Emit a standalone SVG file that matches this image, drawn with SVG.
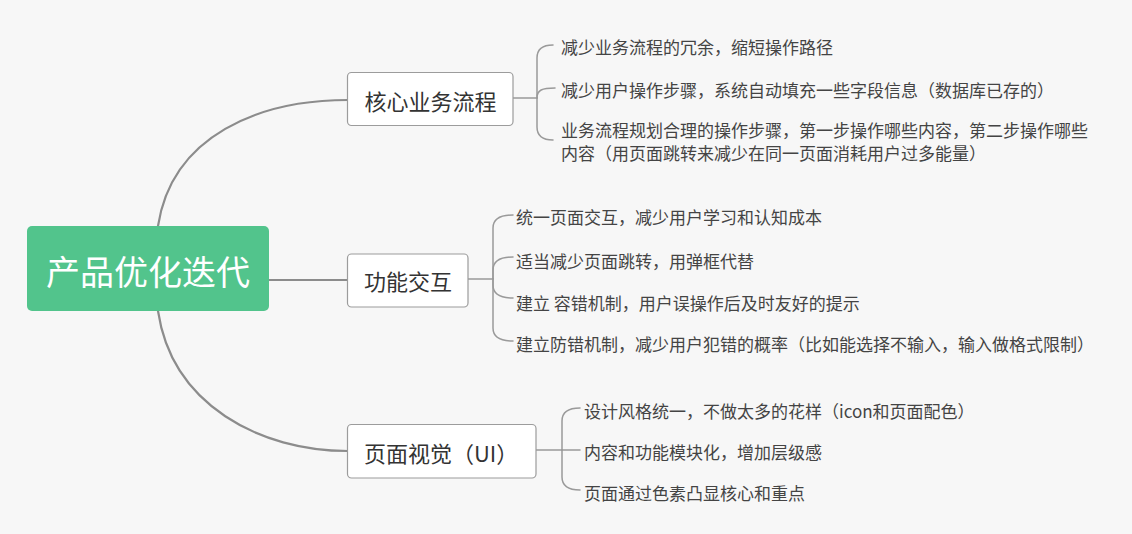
<svg xmlns="http://www.w3.org/2000/svg" width="1132" height="534" viewBox="0 0 1132 534">
  <style>
    .main { fill: none; stroke: #8c8c8c; stroke-width: 2.2; stroke-linecap: round; }
    .sub { fill: none; stroke: #9a9a9a; stroke-width: 1.5; stroke-linecap: round; }
    .box { fill: #ffffff; stroke: #9c9c9c; stroke-width: 1.2; }
    .ntext { font-family: "Noto Sans CJK SC", "Microsoft YaHei", sans-serif; font-size: 22px; fill: #333333; }
    .ctext { font-family: "Noto Sans CJK SC", "Microsoft YaHei", sans-serif; font-size: 17px; fill: #444444; }
    .rtext { font-family: "Noto Sans CJK SC", "Microsoft YaHei", sans-serif; font-size: 34px; fill: #ffffff; }
  </style>
  <rect x="0" y="0" width="1132" height="534" fill="#f7f7f7"/>

  <g id="connectors">
    <path class="main" d="M158,226 C172,135 260,100 348,100"/>
    <path class="main" d="M269,280 H348"/>
    <path class="main" d="M158,311 C172,405 260,451 348,451"/>

    <path class="sub" d="M513,98 H537"/>
    <path class="sub" d="M537,98 V58 Q537,45 553,45"/>
    <path class="sub" d="M537,98 C537,90 542,88 555,88"/>
    <path class="sub" d="M537,98 V127 Q537,140 553,140"/>

    <path class="sub" d="M468,279 H493"/>
    <path class="sub" d="M493,279 V228 Q493,215 513,215"/>
    <path class="sub" d="M493,279 V270 Q493,257 513,257"/>
    <path class="sub" d="M493,279 V285 Q493,298 513,298"/>
    <path class="sub" d="M493,279 V328 Q493,341 513,341"/>

    <path class="sub" d="M536,450 H562"/>
    <path class="sub" d="M562,450 V421 Q562,408 580,408"/>
    <path class="sub" d="M562,450 H580"/>
    <path class="sub" d="M562,450 V477 Q562,490 580,490"/>
  </g>

  <g id="root">
    <rect x="27" y="226" width="242" height="85" rx="5" fill="#52c48c"/>
    <text class="rtext" x="148" y="285" text-anchor="middle">产品优化迭代</text>
  </g>

  <g id="node-core">
    <rect class="box" x="347.5" y="72.5" width="165.5" height="53" rx="4"/>
    <text class="ntext" x="430.5" y="110" text-anchor="middle">核心业务流程</text>
  </g>
  <g id="node-interaction">
    <rect class="box" x="347.5" y="254" width="120.5" height="53" rx="4"/>
    <text class="ntext" x="408" y="290" text-anchor="middle">功能交互</text>
  </g>
  <g id="node-visual">
    <rect class="box" x="347.5" y="424.5" width="188.5" height="53.5" rx="4"/>
    <text class="ntext" x="364" y="462">页面视觉（UI）</text>
  </g>

  <g id="core-children">
    <text class="ctext" x="561" y="53.5">减少业务流程的冗余，缩短操作路径</text>
    <text class="ctext" x="561" y="96.5">减少用户操作步骤，系统自动填充一些字段信息（数据库已存的）</text>
    <text class="ctext" x="561" y="136.5">业务流程规划合理的操作步骤，第一步操作哪些内容，第二步操作哪些</text>
    <text class="ctext" x="561" y="159.5">内容（用页面跳转来减少在同一页面消耗用户过多能量）</text>
  </g>

  <g id="interaction-children">
    <text class="ctext" x="516" y="223.5">统一页面交互，减少用户学习和认知成本</text>
    <text class="ctext" x="516" y="267.5">适当减少页面跳转，用弹框代替</text>
    <text class="ctext" x="516" y="309.5">建立 容错机制，用户误操作后及时友好的提示</text>
    <text class="ctext" x="516" y="350.5">建立防错机制，减少用户犯错的概率（比如能选择不输入，输入做格式限制）</text>
  </g>

  <g id="visual-children">
    <text class="ctext" x="584" y="417.5">设计风格统一，不做太多的花样（icon和页面配色）</text>
    <text class="ctext" x="584" y="458.5">内容和功能模块化，增加层级感</text>
    <text class="ctext" x="584" y="499.5">页面通过色素凸显核心和重点</text>
  </g>
</svg>
